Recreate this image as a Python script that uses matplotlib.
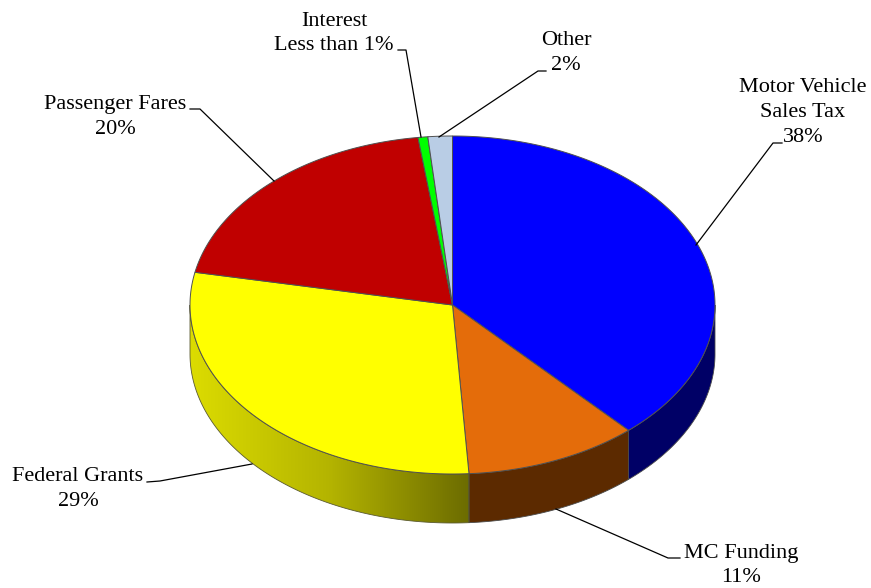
import numpy as np
import matplotlib
matplotlib.use('Agg')
import matplotlib.pyplot as plt
from matplotlib.colors import LinearSegmentedColormap
from matplotlib.patches import Polygon

# Anteile (Prozent) im Uhrzeigersinn ab 12 Uhr
namen = ['Motor Vehicle\nSales Tax\n38%', 'MC Funding\n11%', 'Federal Grants\n29%',
         'Passenger Fares\n20%', 'Interest\nLess than 1%', 'Other\n2%']
werte = [38.3, 10.7, 29.1, 19.8, 0.6, 1.5]
farben = ['#0000ff', '#e46c0a', '#ffff00', '#c00000', '#00ff00', '#b9cde5']
seiten = ['#000066', '#5c2a00', None, '#600000', '#008000', '#5c6672']

# Torte: Mittelpunkt, Halbachsen, Hoehe in Pixeln
cx, cy, rx, ry, hoehe = 452.5, 305, 262.5, 169, 49


def rand(t0, t1, dy=0):
    t = np.radians(np.linspace(t0, t1, 200))
    return np.column_stack([cx + rx * np.sin(t), cy - ry * np.cos(t) + dy])


fig = plt.figure(figsize=(8.71, 5.88), dpi=100)
ax = fig.add_axes([0, 0, 1, 1])
ax.axis('off')

grenzen = np.concatenate([[0], np.cumsum(werte)]) / sum(werte) * 360

# Seitenflaechen (nur die vordere Haelfte ist sichtbar)
for i in range(len(werte)):
    t0, t1 = max(grenzen[i], 90), min(grenzen[i + 1], 270)
    if t1 <= t0:
        continue
    oben = rand(t0, t1)
    unten = rand(t1, t0, hoehe)
    punkte = np.vstack([oben, unten])
    if seiten[i] is None:
        # Gelbe Seite mit Verlauf
        kante = Polygon(punkte, closed=True, fc='none', ec='none')
        ax.add_patch(kante)
        cmap = LinearSegmentedColormap.from_list('gelb', ['#dcdc00', '#b4b400', '#6c6c00'])
        x0, x1 = punkte[:, 0].min(), punkte[:, 0].max()
        verlauf = np.linspace(0, 1, 256).reshape(1, -1)
        bild = ax.imshow(verlauf, cmap=cmap, extent=[x0, x1, punkte[:, 1].max(), punkte[:, 1].min()],
                         aspect='auto', zorder=2)
        bild.set_clip_path(kante)
        ax.add_patch(Polygon(punkte, closed=True, fc='none', ec='#5a5a30', lw=0.6, zorder=3))
    else:
        ax.add_patch(Polygon(punkte, closed=True, fc=seiten[i], ec='#4a4a4a', lw=0.6, zorder=3))

ax.set_xlim(0, 871)
ax.set_ylim(588, 0)

# Deckflaechen
for i in range(len(werte)):
    punkte = np.vstack([[cx, cy], rand(grenzen[i], grenzen[i + 1])])
    ax.add_patch(Polygon(punkte, closed=True, fc=farben[i], ec='#505050', lw=0.7, zorder=4))

# Beschriftungen mit Fuehrungslinien
beschriftung = [
    (803, 112.5, [(782, 143), (773, 143), (696, 245)]),
    (741, 565.5, [(680, 558), (668, 558), (556, 509)]),
    (78, 489, [(147, 482), (160, 481), (252, 464)]),
    (115, 117, [(190, 109), (200, 109), (274, 181)]),
    (334, 33.5, [(398, 50), (406, 50), (421, 137)]),
    (566, 53, [(546, 71), (538, 71), (439, 137)]),
]
for name, (x, y, linie) in zip(namen, beschriftung):
    ax.text(x, y, name, ha='center', va='center', family='Liberation Serif',
            fontsize=16, linespacing=1.4, color='black', zorder=6)
    xs, ys = zip(*linie)
    ax.plot(xs, ys, color='black', lw=0.9, zorder=5)

fig.savefig('out.png', dpi=100)
